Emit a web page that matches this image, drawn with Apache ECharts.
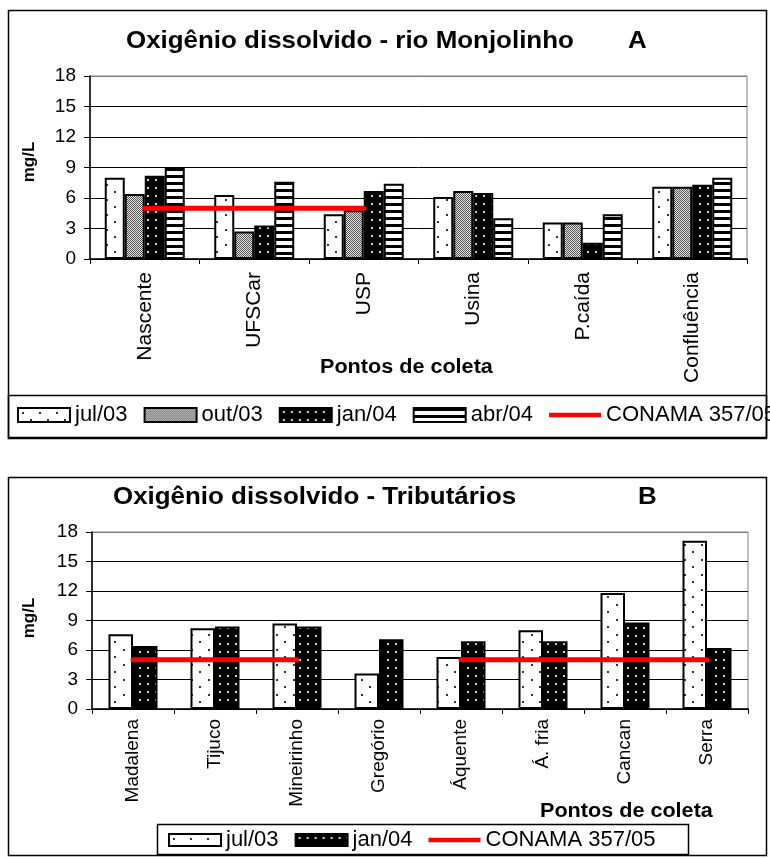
<!DOCTYPE html>
<html>
<head>
<meta charset="utf-8">
<script src="https://cdn.jsdelivr.net/npm/echarts@6/dist/echarts.min.js"></script>
<style>
  html, body { margin: 0; padding: 0; background: #fff; }
  #chart { width: 770px; height: 858px; }
</style>
</head>
<body>
<div id="chart"></div>
<script>
// Dissolved oxygen (mg/L) – rio Monjolinho sampling points
const categoriesA = ['Nascente', 'UFSCar', 'USP', 'Usina', 'P.caída', 'Confluência'];
const jul03A = [8.0, 6.3, 4.4, 6.1, 3.6, 7.1];
const out03A = [6.4, 2.7, 4.8, 6.7, 3.6, 7.1];
const jan04A = [8.2, 3.3, 6.7, 6.5, 1.6, 7.3];
const abr04A = [9.0, 7.6, 7.4, 4.0, 4.4, 8.0];
const conamaA = [5, 5, 5, null, null, null];

// Dissolved oxygen (mg/L) – tributaries
const categoriesB = ['Madalena', 'Tijuco', 'Mineirinho', 'Gregório', 'Áquente', 'Á. fria', 'Cancan', 'Serra'];
const jul03B = [7.6, 8.2, 8.7, 3.6, 5.3, 8.0, 11.8, 17.1];
const jan04B = [6.4, 8.4, 8.4, 7.1, 6.9, 6.9, 8.8, 6.2];
const conamaB = [5, 5, 5, null, 5, 5, 5, 5];

const yTicks = [0, 3, 6, 9, 12, 15, 18];

const FONT = '"Liberation Sans", Arial, Helvetica, sans-serif';

// Hatch fills drawn on small canvases
function makeTile(w, h, draw) {
  const c = document.createElement('canvas');
  c.width = w; c.height = h;
  const ctx = c.getContext('2d');
  draw(ctx);
  return { image: c, repeat: 'repeat' };
}
const fillDots = makeTile(17, 15, ctx => {
  ctx.fillStyle = '#fff'; ctx.fillRect(0, 0, 17, 15);
  ctx.fillStyle = '#333';
  ctx.fillRect(4, 4, 2, 2);
  ctx.fillRect(12, 11, 2, 2);
});
const fillGrey = makeTile(2, 2, ctx => {
  ctx.fillStyle = '#e4e4e4'; ctx.fillRect(0, 0, 2, 2);
  ctx.fillStyle = '#555';
  ctx.fillRect(0, 0, 1, 1);
  ctx.fillRect(1, 1, 1, 1);
});
const fillBlackDots = makeTile(8, 8, ctx => {
  ctx.fillStyle = '#000'; ctx.fillRect(0, 0, 8, 8);
  ctx.fillStyle = '#d8d8d8';
  ctx.fillRect(3, 3, 2, 2);
});
const fillStripes = makeTile(4, 7, ctx => {
  ctx.fillStyle = '#fff'; ctx.fillRect(0, 0, 4, 7);
  ctx.fillStyle = '#000'; ctx.fillRect(0, 0, 4, 3);
});

function barSeries(name, data, fill, axis, width) {
  return {
    type: 'bar', name, data,
    xAxisIndex: axis, yAxisIndex: axis,
    barWidth: width, barGap: '0%',
    itemStyle: { color: fill, borderColor: '#000', borderWidth: 2 },
    emphasis: { disabled: true },
    z: 2
  };
}
function limitSeries(data, axis) {
  return {
    type: 'line', name: 'CONAMA 357/05', data,
    xAxisIndex: axis, yAxisIndex: axis,
    symbol: 'none', connectNulls: false,
    color: '#ff0000',
    itemStyle: { color: '#ff0000' },
    lineStyle: { color: '#ff0000', width: 5, cap: 'round' },
    emphasis: { disabled: true },
    z: 5
  };
}

function valueAxis(gridIndex) {
  return {
    type: 'value', gridIndex, min: 0, max: 18, interval: 3,
    axisLine: { show: true, lineStyle: { color: '#000', width: 1.5 } },
    axisTick: { show: true, length: 6, lineStyle: { color: '#000' } },
    axisLabel: { color: '#000', fontFamily: FONT, fontSize: 19, margin: 14,
                 formatter: v => yTicks.includes(v) ? String(v) : '' },
    splitLine: { show: true, lineStyle: { color: ['#000', '#000', '#000', '#000', '#000', '#000', '#808080'], width: 1 } }
  };
}
function categoryAxis(gridIndex, data, fontSize, margin) {
  return {
    type: 'category', gridIndex, data,
    axisLine: { show: true, lineStyle: { color: '#000', width: 1.5 } },
    axisTick: { show: true, length: 5, alignWithLabel: false, lineStyle: { color: '#000' } },
    axisLabel: { rotate: 90, color: '#000', fontFamily: FONT, fontSize, margin, interval: 0 },
    splitLine: { show: false }
  };
}

function label(text, x, y, opts) {
  return Object.assign({
    type: 'text', x, y, z: 10,
    style: Object.assign({ text, fill: '#000', font: 'bold 17px ' + FONT, textAlign: 'left', textVerticalAlign: 'middle' }, opts && opts.style)
  }, opts && opts.el);
}

const LINE_ICON = 'path://M0,0H60V5H0Z';

const chart = echarts.init(document.getElementById('chart'), null, { renderer: 'canvas' });

chart.setOption({
  backgroundColor: '#fff',
  animation: false,
  grid: [
    { left: 90, right: 23, top: 76, height: 183, show: true, borderColor: '#808080', borderWidth: 1, backgroundColor: 'transparent' },
    { left: 92, right: 22, top: 532, height: 177, show: true, borderColor: '#808080', borderWidth: 1, backgroundColor: 'transparent' }
  ],
  xAxis: [categoryAxis(0, categoriesA, 21, 13), categoryAxis(1, categoriesB, 19, 10)],
  yAxis: [valueAxis(0), valueAxis(1)],
  legend: [
    {
      left: 17, top: 404, width: 1200, itemWidth: 52, itemHeight: 14, itemGap: 16, padding: 0,
      selectedMode: false,
      textStyle: { color: '#000', fontFamily: FONT, fontSize: 22 },
      data: [
        { name: 'jul/03', icon: 'rect' },
        { name: 'out/03', icon: 'rect' },
        { name: 'jan/04', icon: 'rect' },
        { name: 'abr/04', icon: 'rect' },
        { name: 'CONAMA 357/05', icon: LINE_ICON, itemStyle: { color: '#ff0000', borderWidth: 0 } }
      ]
    },
    {
      left: 168, top: 829, width: 1000, itemWidth: 52, itemHeight: 12, itemGap: 16, padding: 0,
      selectedMode: false,
      textStyle: { color: '#000', fontFamily: FONT, fontSize: 22 },
      data: [
        { name: 'jul/03', icon: 'rect' },
        { name: 'jan/04', icon: 'rect' },
        { name: 'CONAMA 357/05', icon: LINE_ICON, itemStyle: { color: '#ff0000', borderWidth: 0 } }
      ]
    }
  ],
  series: [
    barSeries('jul/03', jul03A, fillDots, 0, 20),
    barSeries('out/03', out03A, fillGrey, 0, 20),
    barSeries('jan/04', jan04A, fillBlackDots, 0, 20),
    barSeries('abr/04', abr04A, fillStripes, 0, 20),
    limitSeries(conamaA, 0),
    barSeries('jul/03', jul03B, fillDots, 1, 24.5),
    barSeries('jan/04', jan04B, fillBlackDots, 1, 24.5),
    limitSeries(conamaB, 1)
  ],
  graphic: [
    // outer frames and legend boxes
    { type: 'rect', shape: { x: 8.5, y: 10.5, width: 758, height: 428 }, style: { fill: 'none', stroke: '#000', lineWidth: 1.5 }, z: 0 },
    { type: 'rect', shape: { x: 8.5, y: 395.5, width: 758, height: 42 }, style: { fill: 'none', stroke: '#000', lineWidth: 1.5 }, z: 0 },
    { type: 'rect', shape: { x: 8.5, y: 477.5, width: 758, height: 378 }, style: { fill: 'none', stroke: '#000', lineWidth: 1.5 }, z: 0 },
    { type: 'rect', shape: { x: 157.5, y: 824.5, width: 531, height: 30 }, style: { fill: 'none', stroke: '#000', lineWidth: 1.5 }, z: 0 },

    // chart A texts
    label('Oxigênio dissolvido - rio Monjolinho', 126, 41, { style: { font: 'bold 24px ' + FONT }, el: { scaleX: 1.08 } }),
    label('A', 628, 41, { style: { font: 'bold 24px ' + FONT }, el: { scaleX: 1.08 } }),
    label('mg/L', 29, 162, { style: { font: 'bold 17px ' + FONT, textAlign: 'center' }, el: { rotation: Math.PI / 2 } }),
    label('Pontos de coleta', 320, 367, { style: { font: 'bold 20px ' + FONT }, el: { scaleX: 1.08 } }),

    // chart B texts
    label('Oxigênio dissolvido - Tributários', 113, 497, { style: { font: 'bold 24px ' + FONT }, el: { scaleX: 1.08 } }),
    label('B', 638, 497, { style: { font: 'bold 24px ' + FONT }, el: { scaleX: 1.08 } }),
    label('mg/L', 29, 618, { style: { font: 'bold 17px ' + FONT, textAlign: 'center' }, el: { rotation: Math.PI / 2 } }),
    label('Pontos de coleta', 540, 811, { style: { font: 'bold 20px ' + FONT }, el: { scaleX: 1.08 } })
  ]
});
</script>
</body>
</html>
